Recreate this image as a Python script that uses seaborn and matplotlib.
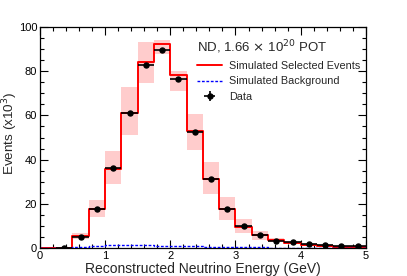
"""
Reconstructed neutrino energy spectrum, ND selection vs simulation.
"""

import numpy as np
import pandas as pd
import matplotlib
matplotlib.use("Agg")
import matplotlib.pyplot as plt
from matplotlib.ticker import MultipleLocator
from matplotlib.lines import Line2D
import seaborn as sns

# ── Data (x10^3 events) ─────────────────────────────────────────────────────
bin_edges = [0.0, 0.25, 0.5, 0.75, 1.0, 1.25, 1.5, 1.75, 2.0, 2.25, 2.5,
             2.75, 3.0, 3.25, 3.5, 3.75, 4.0, 4.25, 4.5, 4.75, 5.0]
mc_selected = [0.0, 0.0, 5.3, 17.5, 35.6, 61.1, 84.0, 92.3, 78.1, 52.9,
               31.4, 17.8, 9.7, 5.7, 3.5, 2.3, 1.5, 0.9, 0.6, 0.4]
mc_band_low = [0.0, 0.0, 4.2, 14.0, 29.1, 51.3, 74.8, 88.0, 71.0, 44.2,
               24.6, 12.8, 6.8, 3.5, 2.6, 1.7, 1.1, 0.6, 0.4, 0.2]
mc_band_high = [0.0, 0.0, 7.0, 21.6, 43.8, 72.9, 93.1, 94.0, 80.1, 60.8,
                38.9, 23.1, 13.3, 7.7, 4.6, 3.0, 2.0, 1.3, 0.9, 0.6]
mc_background = [0.05, 0.05, 0.3, 1.0, 1.2, 1.3, 1.2, 1.0, 0.9, 0.7,
                 0.5, 0.4, 0.3, 0.25, 0.2, 0.2, 0.15, 0.15, 0.1, 0.1]
data_x = [0.375, 0.625, 0.875, 1.125, 1.375, 1.625, 1.875, 2.125, 2.375,
          2.625, 2.875, 3.125, 3.375, 3.625, 3.875, 4.125, 4.375, 4.625,
          4.875]
data_y = [0.0, 5.1, 17.7, 36.2, 61.1, 83.0, 89.8, 76.5, 52.5, 31.2, 17.8,
          9.8, 6.1, 3.4, 2.5, 1.8, 1.3, 0.9, 0.8]

sns.set_theme(style="ticks")
plt.rcParams["font.family"] = ["Liberation Sans", "DejaVu Sans"]

edges = np.array(bin_edges)
centers = 0.5 * (edges[:-1] + edges[1:])
widths = np.diff(edges)
low = np.array(mc_band_low)
high = np.array(mc_band_high)
hist_df = pd.DataFrame({"energy": centers, "selected": mc_selected,
                        "background": mc_background})

fig = plt.figure(figsize=(4.07, 2.76), dpi=100)
ax = fig.add_axes([0.098, 0.1014, 0.801, 0.8006])

# ── Systematic band ────────────────────────────────────────────────────────
ax.bar(centers, high - low, bottom=low, width=widths, color="#ffcccc",
       linewidth=0, zorder=1)

# ── Simulation histograms ──────────────────────────────────────────────────
sns.histplot(data=hist_df, x="energy", weights="selected", bins=bin_edges,
             element="step", fill=False, color="#ff0000", linewidth=1.4,
             ax=ax, zorder=2)
sns.histplot(data=hist_df, x="energy", weights="background", bins=bin_edges,
             element="step", fill=False, color="#0000ff", linewidth=1.0,
             linestyle=(0, (2, 1.2)), ax=ax, zorder=3)

# ── Data ───────────────────────────────────────────────────────────────────
ax.errorbar(data_x, data_y, xerr=0.125, fmt="o", color="black", ms=3.6,
            elinewidth=1.2, capsize=0, zorder=4)

ax.set_xlim(0, 5)
ax.set_ylim(0, 100)
ax.xaxis.set_major_locator(MultipleLocator(1))
ax.xaxis.set_minor_locator(MultipleLocator(0.2))
ax.yaxis.set_major_locator(MultipleLocator(20))
ax.yaxis.set_minor_locator(MultipleLocator(5))
ax.tick_params(which="both", direction="in", top=True, right=True,
               labelsize=8, width=0.8, pad=2, colors="black")
ax.tick_params(which="major", length=6)
ax.tick_params(which="minor", length=3)
for s in ax.spines.values():
    s.set_linewidth(0.9)
    s.set_color("black")

ax.set_xlabel("Reconstructed Neutrino Energy (GeV)", fontsize=10, labelpad=1)
ax.set_ylabel("Events (x10$^{3}$)", fontsize=9.7)
ax.yaxis.set_label_coords(-0.062, 0.518)

# ── Legend ─────────────────────────────────────────────────────────────────
handles = [
    Line2D([], [], color="#ff0000", lw=1.4),
    Line2D([], [], color="#0000ff", lw=1.0, ls=(0, (2, 1.2))),
    ax.errorbar([], [], xerr=[], yerr=[], fmt="o", color="black", ms=3.6,
                elinewidth=1.2, capsize=0),
]
labels = ["Simulated Selected Events", "Simulated Background", "Data"]
leg = ax.legend(handles, labels, title="ND, 1.66 $\\times$ 10$^{20}$ POT",
                loc="upper left", bbox_to_anchor=(0.47, 0.97), frameon=False,
                fontsize=7.8, title_fontsize=9.5, handlelength=2.3,
                handletextpad=0.6, labelspacing=0.5, borderaxespad=0)
leg._legend_box.align = "left"

fig.savefig("out.png", dpi=100)
plt.close(fig)
